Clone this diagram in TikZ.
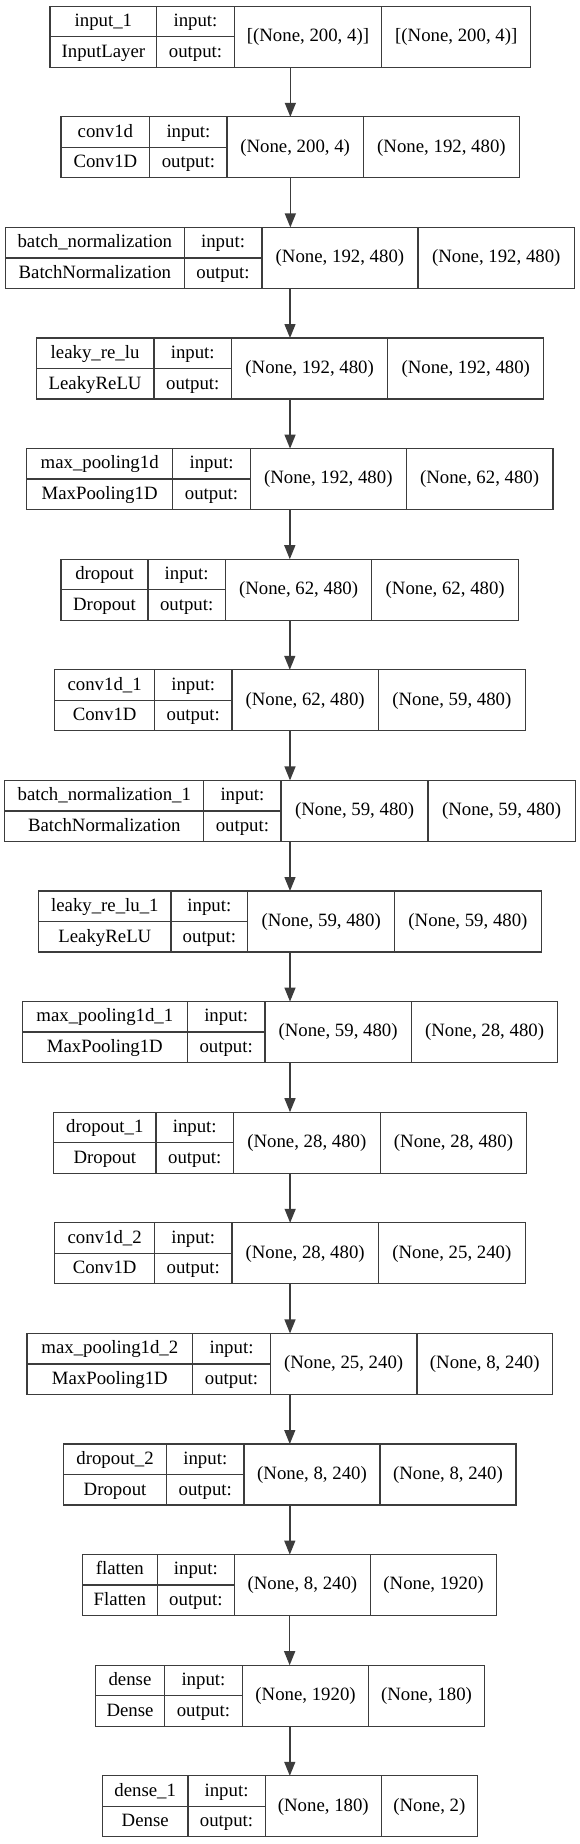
\documentclass[tikz,border=0pt]{standalone}
\usepackage{fontspec}
\setmainfont{Liberation Serif}
\usetikzlibrary{arrows.meta}
\definecolor{lc}{RGB}{60,60,60}
\tikzset{
  box/.style={draw=lc, line width=1.3pt, inner sep=0pt, outer sep=0pt},
  lbl/.style={anchor=base, inner sep=0pt, text=black, font=\fontsize{18.8}{22}\selectfont},
  flow/.style={draw=lc, line width=1.4pt, -{Triangle[length=14pt,width=11pt]}},
  divl/.style={draw=lc, line width=1.3pt}
}
\newcommand\Lyblk[6]{\def\Lyi{#1}\def\Lyl{#2}\def\Lyda{#3}\def\Lydb{#4}\def\Lydc{#5}\def\Lyr{#6}\Lyrest}
\newcommand\Lyrest[4]{%
  \pgfmathsetmacro\Lyt{6.2+110.6*\Lyi}%
  \pgfmathsetmacro\Lyb{\Lyt+61}%
  \pgfmathsetmacro\Lym{\Lyt+30.5}%
  \pgfmathsetmacro\Lycx{(\Lyl+\Lyr)/2}%
  \pgfmathsetmacro\Lyw{\Lyr-\Lyl}%
  \node[box, minimum width=\Lyw pt, minimum height=61pt] (b\Lyi) at (\Lycx,\Lym) {};
  \draw[divl] (\Lyda,\Lyt) -- (\Lyda,\Lyb);
  \draw[divl] (\Lydb,\Lyt) -- (\Lydb,\Lyb);
  \draw[divl] (\Lydc,\Lyt) -- (\Lydc,\Lyb);
  \draw[divl] (\Lyl,\Lym) -- (\Lydb,\Lym);
  \node[lbl] (n\Lyi) at ({(\Lyl+\Lyda)/2},{\Lyt+20.2}) {#1};
  \node[lbl] (c\Lyi) at ({(\Lyl+\Lyda)/2},{\Lyt+51}) {#2};
  \node[lbl] (i\Lyi) at ({(\Lyda+\Lydb)/2},{\Lyt+20.2}) {input:};
  \node[lbl] (o\Lyi) at ({(\Lyda+\Lydb)/2},{\Lyt+51}) {output:};
  \node[lbl] (s\Lyi) at ({(\Lydb+\Lydc)/2},{\Lyt+35.2}) {#3};
  \node[lbl] (t\Lyi) at ({(\Lydc+\Lyr)/2},{\Lyt+35.2}) {#4};
}
\begin{document}
\begin{tikzpicture}[x=1pt,y=-1pt]
\fill[white] (0,0) rectangle (580,1844);
\useasboundingbox (0,0) rectangle (580,1844);
\Lyblk{0}{49.9}{156.8}{234.2}{381.7}{530.8}{input\_1}{InputLayer}{[(None, 200, 4)]}{[(None, 200, 4)]}
\Lyblk{1}{61.0}{149.8}{227.1}{363.2}{519.7}{conv1d}{Conv1D}{(None, 200, 4)}{(None, 192, 480)}
\Lyblk{2}{5.5}{184.2}{261.9}{418.0}{574.5}{batch\_normalization}{BatchNormalization}{(None, 192, 480)}{(None, 192, 480)}
\Lyblk{3}{36.3}{153.9}{231.6}{387.7}{543.8}{leaky\_re\_lu}{LeakyReLU}{(None, 192, 480)}{(None, 192, 480)}
\Lyblk{4}{26.6}{172.7}{250.4}{406.2}{553.0}{max\_pooling1d}{MaxPooling1D}{(None, 192, 480)}{(None, 62, 480)}
\Lyblk{5}{61.0}{148.0}{225.3}{371.8}{518.6}{dropout}{Dropout}{(None, 62, 480)}{(None, 62, 480)}
\Lyblk{6}{54.7}{154.6}{231.9}{378.4}{525.3}{conv1d\_1}{Conv1D}{(None, 62, 480)}{(None, 59, 480)}
\Lyblk{7}{4.8}{203.8}{281.1}{428.0}{575.2}{batch\_normalization\_1}{BatchNormalization}{(None, 59, 480)}{(None, 59, 480)}
\Lyblk{8}{38.8}{170.9}{247.8}{394.7}{541.2}{leaky\_re\_lu\_1}{LeakyReLU}{(None, 59, 480)}{(None, 59, 480)}
\Lyblk{9}{22.2}{187.5}{264.9}{411.3}{557.8}{max\_pooling1d\_1}{MaxPooling1D}{(None, 59, 480)}{(None, 28, 480)}
\Lyblk{10}{53.6}{156.1}{233.4}{380.3}{526.7}{dropout\_1}{Dropout}{(None, 28, 480)}{(None, 28, 480)}
\Lyblk{11}{54.7}{154.6}{231.9}{378.4}{525.3}{conv1d\_2}{Conv1D}{(None, 28, 480)}{(None, 25, 240)}
\Lyblk{12}{27.0}{192.7}{270.4}{416.9}{552.6}{max\_pooling1d\_2}{MaxPooling1D}{(None, 25, 240)}{(None, 8, 240)}
\Lyblk{13}{63.6}{166.5}{244.1}{379.9}{516.0}{dropout\_2}{Dropout}{(None, 8, 240)}{(None, 8, 240)}
\Lyblk{14}{82.5}{157.2}{234.5}{370.3}{496.8}{flatten}{Flatten}{(None, 8, 240)}{(None, 1920)}
\Lyblk{15}{95.4}{164.6}{242.3}{368.8}{484.2}{dense}{Dense}{(None, 1920)}{(None, 180)}
\Lyblk{16}{102.5}{187.9}{265.2}{381.4}{477.2}{dense\_1}{Dense}{(None, 180)}{(None, 2)}
\foreach \i [evaluate=\i as \j using int(\i+1)] in {0,...,15}
  \draw[flow] (b\i.south) -- (b\i.south |- b\j.north);
\end{tikzpicture}
\end{document}
